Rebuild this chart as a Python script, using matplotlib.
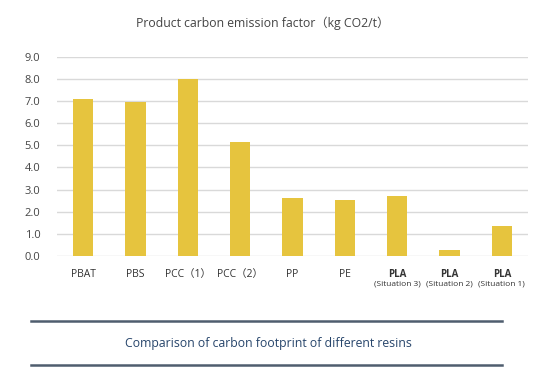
import matplotlib
matplotlib.use("Agg")
import matplotlib.pyplot as plt

plt.rcParams['font.family'] = ['Open Sans', 'Noto Sans CJK SC', 'DejaVu Sans']

categories = ["PBAT", "PBS", "PCC（1）", "PCC（2）", "PP", "PE", "PLA", "PLA", "PLA"]
sublabels = ["", "", "", "", "", "", "(Situation 3)", "(Situation 2)", "(Situation 1)"]
values = [7.08, 6.95, 7.97, 5.16, 2.63, 2.52, 2.70, 0.27, 1.37]
yticks = [0.0, 1.0, 2.0, 3.0, 4.0, 5.0, 6.0, 7.0, 8.0, 9.0]

fig = plt.figure(figsize=(5.5, 3.7), dpi=100)
ax = fig.add_axes([0.1036, 0.308, 0.8564, 0.539])

x = list(range(len(categories)))
ax.bar(x, values, width=0.39, color="#E6C43E", zorder=3)
ax.set_xlim(-0.5, len(categories) - 0.5)
ax.set_ylim(0, 9)
ax.set_yticks(yticks)
ax.set_yticklabels([f"{v:.1f}" for v in yticks], fontsize=8, color="#444444")
ax.yaxis.grid(True, color="#d9d9d9", linewidth=1, zorder=0)
ax.tick_params(axis='y', length=0, pad=12)
ax.tick_params(axis='x', length=0, pad=9)
for s in ax.spines.values():
    s.set_visible(False)

ax.set_xticks(x)
ax.set_xticklabels(categories, fontsize=7.5, color="#333333")
for lbl, sub in zip(ax.get_xticklabels(), sublabels):
    if sub:
        lbl.set_fontweight("bold")
        lbl.set_fontsize(7)
tr = ax.get_xaxis_transform()
for xi, sub in zip(x, sublabels):
    if sub:
        ax.text(xi, -0.125, sub, transform=tr, ha="center", va="top",
                fontsize=6, color="#333333")

fig.text(263/550, 1-23/370, "Product carbon emission factor（kg CO2/t）", ha="center",
         va="center", fontsize=8.8, color="#444444")

fig.add_artist(plt.Line2D([31/550, 502/550], [1-321/370, 1-321/370],
                          color="#4f5d6e", linewidth=1.8))
fig.add_artist(plt.Line2D([31/550, 502/550], [1-365/370, 1-365/370],
                          color="#4f5d6e", linewidth=1.8))
fig.text(268/550, 1-343/370, "Comparison of carbon footprint of different resins",
         ha="center", va="center", fontsize=8.8, color="#27456b")

fig.savefig("out.png", dpi=100, facecolor="white")
